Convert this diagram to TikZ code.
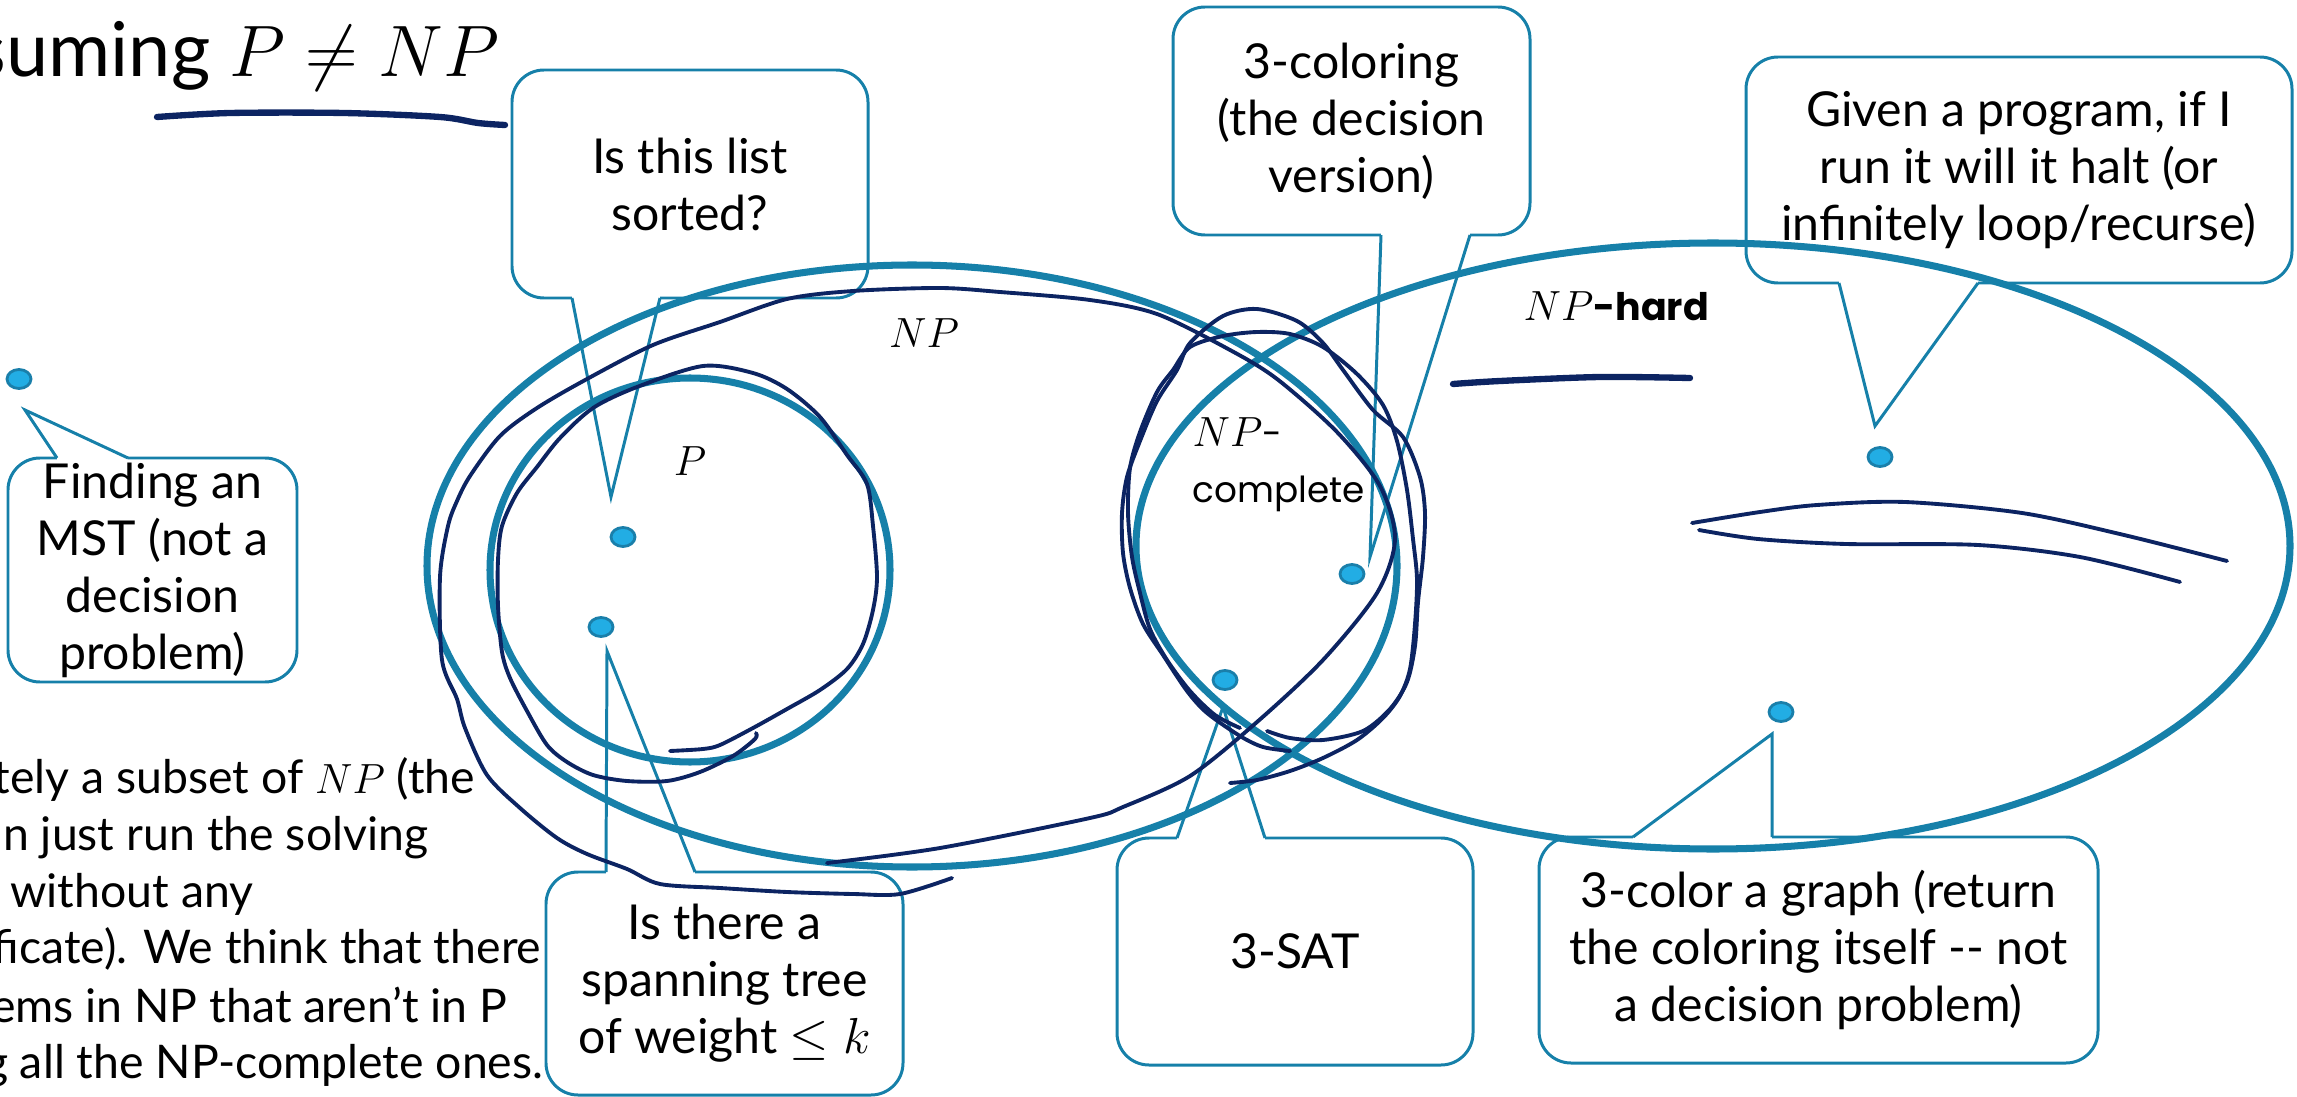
\documentclass[tikz,border=0pt]{standalone}
\usepackage{fontspec}
\setmainfont{Lato}
\newfontfamily\geofont{Poppins}
\usetikzlibrary{shapes.geometric}

\definecolor{setblue}{HTML}{1680A9}
\definecolor{dotblue}{HTML}{22ADE4}
\definecolor{dotedge}{HTML}{1A7FAA}
\definecolor{ink}{HTML}{0C2462}

\begin{document}
\begin{tikzpicture}[
  font=\fontsize{13.7}{16.2}\selectfont,
  bubble/.style={rectangle, rounded corners=3.2mm, draw=setblue, line width=0.85pt,
                 align=center, inner sep=0pt},
  tail/.style={draw=setblue, line width=0.85pt, line join=miter},
  gap/.style={draw=white, line width=2.4pt},
  setline/.style={draw=setblue, line width=2pt},
  scribble/.style={draw=ink, line width=1.1pt, line cap=round, line join=round},
  thickink/.style={draw=ink, line width=1.8pt, line cap=round},
  probdot/.style={ellipse, draw=dotedge, fill=dotblue, line width=0.8pt,
                  minimum width=2.4mm, minimum height=1.9mm, inner sep=0pt},
  lbl/.style={font=\fontsize{12.5}{15}\selectfont, inner sep=0pt},
  body/.style={anchor=base east, inner sep=0pt, font=\fontsize{13.2}{16.2}\selectfont},
]
\useasboundingbox (0,0) rectangle (22.97,-10.97);

% ================= CALLOUT BOXES (explicit coords, cm) =================
\node[bubble, minimum width=2.89cm, minimum height=2.24cm] (mst)      at (1.525,-5.70)  {Finding an\\MST (not a\\decision\\problem)};
\node[bubble, minimum width=3.56cm, minimum height=2.28cm] (sorted)   at (6.90,-1.84)   {Is this list\\sorted?};
\node[bubble, minimum width=3.57cm, minimum height=2.23cm] (spanning) at (7.245,-9.835) {Is there a\\spanning tree\\of weight $\leq k$};
\node[bubble, minimum width=3.57cm, minimum height=2.28cm] (coloring) at (13.515,-1.21) {3-coloring\\(the decision\\version)};
\node[bubble, minimum width=5.46cm, minimum height=2.26cm] (halt)     at (20.19,-1.70)  {Given a program, if I\\run it will it halt (or\\infinitely loop/recurse)};
\node[bubble, minimum width=3.56cm, minimum height=2.27cm] (sat)      at (12.95,-9.515) {3-SAT};
\node[bubble, minimum width=5.59cm, minimum height=2.26cm] (graph)    at (18.185,-9.50) {3-color a graph (return\\the coloring itself -{}- not\\a decision problem)};

% tail ends
\coordinate (mstL)  at (0.57,-4.58);   \coordinate (mstR)  at (1.28,-4.58);   \coordinate (mstTip)  at (0.25,-4.10);
\coordinate (sorL)  at (5.72,-2.98);   \coordinate (sorR)  at (6.60,-2.98);   \coordinate (sorTip)  at (6.11,-4.97);
\coordinate (spanL) at (6.06,-8.72);   \coordinate (spanR) at (6.95,-8.72);   \coordinate (spanTip) at (6.07,-6.51);
\coordinate (colL)  at (13.81,-2.35);  \coordinate (colR)  at (14.70,-2.35);  \coordinate (colTip)  at (13.70,-5.57);
\coordinate (haltL) at (18.39,-2.83);  \coordinate (haltR) at (19.78,-2.83);  \coordinate (haltTip) at (18.75,-4.26);
\coordinate (satL)  at (11.77,-8.38);  \coordinate (satR)  at (12.65,-8.38);  \coordinate (satTip)  at (12.23,-7.07);
\coordinate (grL)   at (16.33,-8.37);  \coordinate (grR)   at (17.72,-8.37);  \coordinate (grTip)   at (17.72,-7.34);

% ================= TAILS =================
\foreach \c in {mst, sor, span, col, halt, sat, gr}{
  \draw[gap] (\c L) -- (\c R);
  \draw[tail] (\c L) -- (\c Tip) -- (\c R);
}

% ================= SETS =================
\draw[setline] (9.12,-5.66) ellipse [x radius=4.85, y radius=3.01];   % NP
\draw[setline] (17.13,-5.46) ellipse [x radius=5.77, y radius=3.03];  % NP-hard
\draw[setline] (6.90,-5.70) ellipse [x radius=2.00, y radius=1.92];   % P

% ================= INK =================
\draw[thickink] plot[smooth, tension=0.5] coordinates {(1.57,-1.17) (2.30,-1.13) (3.44,-1.13) (4.40,-1.17) (4.78,-1.23) (5.05,-1.25)};
\draw[thickink] plot[smooth, tension=0.5] coordinates {(14.53,-3.84) (15.00,-3.81) (16.00,-3.77) (16.90,-3.78)};

% around P
\draw[scribble] plot[smooth, tension=0.5] coordinates {(6.70,-7.51) (7.03,-7.49) (7.20,-7.45) (7.53,-7.28) (7.87,-7.09) (8.20,-6.90) (8.47,-6.69) (8.63,-6.44) (8.73,-6.10) (8.77,-5.77) (8.73,-5.26) (8.67,-4.84) (8.47,-4.55) (8.20,-4.17) (7.87,-3.89) (7.53,-3.73) (7.03,-3.66) (6.37,-3.87) (5.93,-4.08) (5.60,-4.38) (5.37,-4.67) (5.17,-4.93) (5.02,-5.26) (4.98,-5.60) (4.98,-6.06) (5.02,-6.52) (5.10,-6.78) (5.27,-7.11) (5.47,-7.45) (5.67,-7.62) (5.93,-7.75) (6.27,-7.81) (6.67,-7.81) (7.00,-7.72) (7.33,-7.56) (7.55,-7.39) (7.56,-7.33)};

% around NP
\draw[scribble] plot[smooth, tension=0.5] coordinates {(9.52,-8.78) (9.00,-8.94) (8.53,-8.94) (7.87,-8.92) (7.20,-8.88) (6.60,-8.84) (6.27,-8.69) (5.87,-8.54) (5.57,-8.38) (5.20,-8.08) (4.87,-7.75) (4.65,-7.28) (4.57,-6.99) (4.42,-6.60) (4.40,-5.77) (4.48,-5.26) (4.57,-5.01) (4.70,-4.76) (5.00,-4.36) (5.37,-4.08) (5.87,-3.79) (6.53,-3.45) (7.20,-3.22) (7.87,-2.99) (8.53,-2.91) (9.40,-2.88) (10.00,-2.92) (10.90,-3.00) (11.57,-3.14) (12.30,-3.50) (12.77,-3.79) (13.37,-4.32) (13.80,-4.86) (13.95,-5.39) (13.77,-5.93) (13.23,-6.60) (12.57,-7.22) (11.90,-7.76) (11.23,-8.07) (10.90,-8.18) (9.40,-8.48) (8.27,-8.63)};

% around NP-complete
\draw[scribble] plot[smooth, tension=0.5] coordinates {(12.67,-7.31) (12.90,-7.38) (13.23,-7.40) (13.63,-7.31) (13.90,-7.09) (14.07,-6.82) (14.15,-6.46) (14.18,-6.02) (14.23,-5.57) (14.25,-5.13) (14.20,-4.77) (14.03,-4.37) (13.73,-4.10) (13.43,-3.70) (13.23,-3.43) (12.97,-3.21) (12.57,-3.09) (12.23,-3.16) (11.90,-3.43) (11.77,-3.70) (11.57,-4.01) (11.40,-4.41) (11.27,-4.77) (11.22,-5.13) (11.23,-5.53) (11.30,-5.88) (11.43,-6.24) (11.63,-6.55) (11.87,-6.91) (12.07,-7.13) (12.40,-7.36) (12.63,-7.47) (12.90,-7.51)};
\draw[scribble] plot[smooth, tension=0.5] coordinates {(12.30,-7.83) (12.57,-7.80) (12.90,-7.71) (13.23,-7.58) (13.57,-7.40) (13.83,-7.18) (14.00,-6.96) (14.10,-6.69) (14.15,-6.24) (14.17,-5.79) (14.13,-5.39) (14.07,-4.90) (13.97,-4.41) (13.83,-4.05) (13.57,-3.74) (13.23,-3.47) (12.90,-3.34) (12.57,-3.32) (12.23,-3.36) (11.90,-3.47) (11.73,-3.70) (11.57,-3.92) (11.40,-4.32) (11.30,-4.68) (11.28,-5.13) (11.32,-5.57) (11.40,-5.93) (11.50,-6.29) (11.67,-6.60) (11.90,-6.91) (12.15,-7.15) (12.40,-7.28)};

% through NP-hard
\draw[scribble] plot[smooth, tension=0.5] coordinates {(16.92,-5.23) (17.60,-5.12) (18.17,-5.05) (19.05,-5.02) (20.22,-5.13) (21.24,-5.35) (22.27,-5.61)};
\draw[scribble] plot[smooth, tension=0.5] coordinates {(16.99,-5.30) (17.58,-5.39) (18.46,-5.44) (19.78,-5.45) (20.80,-5.57) (21.80,-5.82)};

% ================= PROBLEMS =================
\node[probdot] (mstdot)  at (0.19,-3.79)  {};
\node[probdot] (sordot)  at (6.23,-5.37)  {};
\node[probdot] (spandot) at (6.01,-6.27)  {};
\node[probdot] (coldot)  at (13.52,-5.74) {};
\node[probdot] (satdot)  at (12.25,-6.80) {};
\node[probdot] (haltdot) at (18.80,-4.57) {};
\node[probdot] (grdot)   at (17.81,-7.12) {};

% ================= LABELS =================
\node[lbl] (plbl)  at (6.90,-4.61) {$P$};
\node[lbl] (nplbl) at (9.24,-3.33) {$NP$};
\node[lbl, anchor=base west] (cmpl1) at (11.92,-4.47) {$NP$\geofont\fontsize{10.2}{12}\selectfont-};
\node[anchor=base west, inner sep=0pt, font=\geofont\fontsize{10.2}{12}\selectfont] (cmpl2) at (11.92,-5.03) {complete};
\node[lbl, anchor=base west] (hard) at (15.23,-3.21) {$NP$\geofont\fontsize{10.8}{13}\selectfont\bfseries-hard};

\node[anchor=base west, inner sep=0pt, font=\fontsize{21.5}{25}\selectfont] (title) at (-0.27,-0.77) {suming $P \neq NP$};

\node[body] (line1) at (4.76,-7.93)  {tely a subset of $NP$ (the};
\node[body] (line2) at (4.29,-8.50)  {n just run the solving};
\node[body] (line3) at (2.54,-9.07)  {without any};
\node[body] (line4) at (5.42,-9.63)  {ficate). We think that there};
\node[body] (line5) at (5.08,-10.22) {ems in NP that aren’t in P};
\node[body] (line6) at (5.44,-10.78) {g all the NP-complete ones.};

\end{tikzpicture}
\end{document}
